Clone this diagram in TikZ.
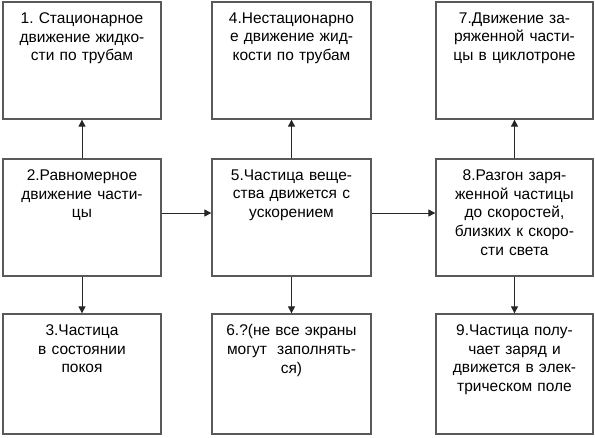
\documentclass[tikz,border=0pt]{standalone}
\usepackage{fontspec}
\setmainfont{Liberation Sans}
\usetikzlibrary{arrows.meta}
\begin{document}
\frenchspacing
\begin{tikzpicture}[x=1pt,y=-1pt,
  box/.style={draw=black!65, line width=1.3pt, minimum width=#1, minimum height=117pt, inner sep=0pt, fill=white},
  box/.default=158pt,
  txt/.style={anchor=north, text width=160pt, align=center, inner sep=0pt, font=\fontsize{15.5}{18.7}\selectfont, yshift=-11pt},
  arr/.style={line width=1pt, draw=black!85, -{Triangle[length=7pt,width=7pt]}}]
\useasboundingbox (0,0) rectangle (595,437);
% boxes
\node[box=158pt] (b1) at (82,60.5) {};
\node[box=159pt] (b4) at (291.5,60.5) {};
\node[box=157pt] (b7) at (514.5,60.5) {};
\node[box=158pt] (b2) at (82,217.5) {};
\node[box=159pt] (b5) at (291.5,217.5) {};
\node[box=157pt] (b8) at (514.5,217.5) {};
\node[box=158pt, minimum height=120pt] (b3) at (82,374) {};
\node[box=159pt, minimum height=120pt] (b6) at (291.5,374) {};
\node[box=157pt, minimum height=120pt] (b9) at (514.5,374) {};
% texts
\node[txt] (t1) at (b1.north) {1. Стационарное\\движение жидко-\\сти по трубам};
\node[txt] (t4) at (b4.north) {4.Нестационарно\\е движение жид-\\кости по трубам};
\node[txt] (t7) at (b7.north) {7.Движение за-\\ряженной части-\\цы в циклотроне};
\node[txt] (t2) at (b2.north) {2.Равномерное\\движение части-\\цы};
\node[txt] (t5) at (b5.north) {5.Частица веще-\\ства движется с\\ускорением};
\node[txt] (t8) at (b8.north) {8.Разгон заря-\\женной частицы\\до скоростей,\\близких к скоро-\\сти света};
\node[txt] (t3) at (b3.north) {3.Частица\\в состоянии\\покоя};
\node[txt] (t6) at (b6.north) {6.?(не все экраны\\могут\ \ заполнять-\\ся)};
\node[txt] (t9) at (b9.north) {9.Частица полу-\\чает заряд и\\движется в элек-\\трическом поле};
% arrows
\draw[arr] (b2.north) -- (b1.south);
\draw[arr] (b5.north) -- (b4.south);
\draw[arr] (b8.north) -- (b7.south);
\draw[arr] (b2.south) -- (b3.north);
\draw[arr] (b5.south) -- (b6.north);
\draw[arr] (b8.south) -- (b9.north);
\draw[arr] ([yshift=4.5pt]b2.east) -- ([yshift=4.5pt]b5.west);
\draw[arr] ([yshift=4.5pt]b5.east) -- ([yshift=4.5pt]b8.west);
\end{tikzpicture}
\end{document}
